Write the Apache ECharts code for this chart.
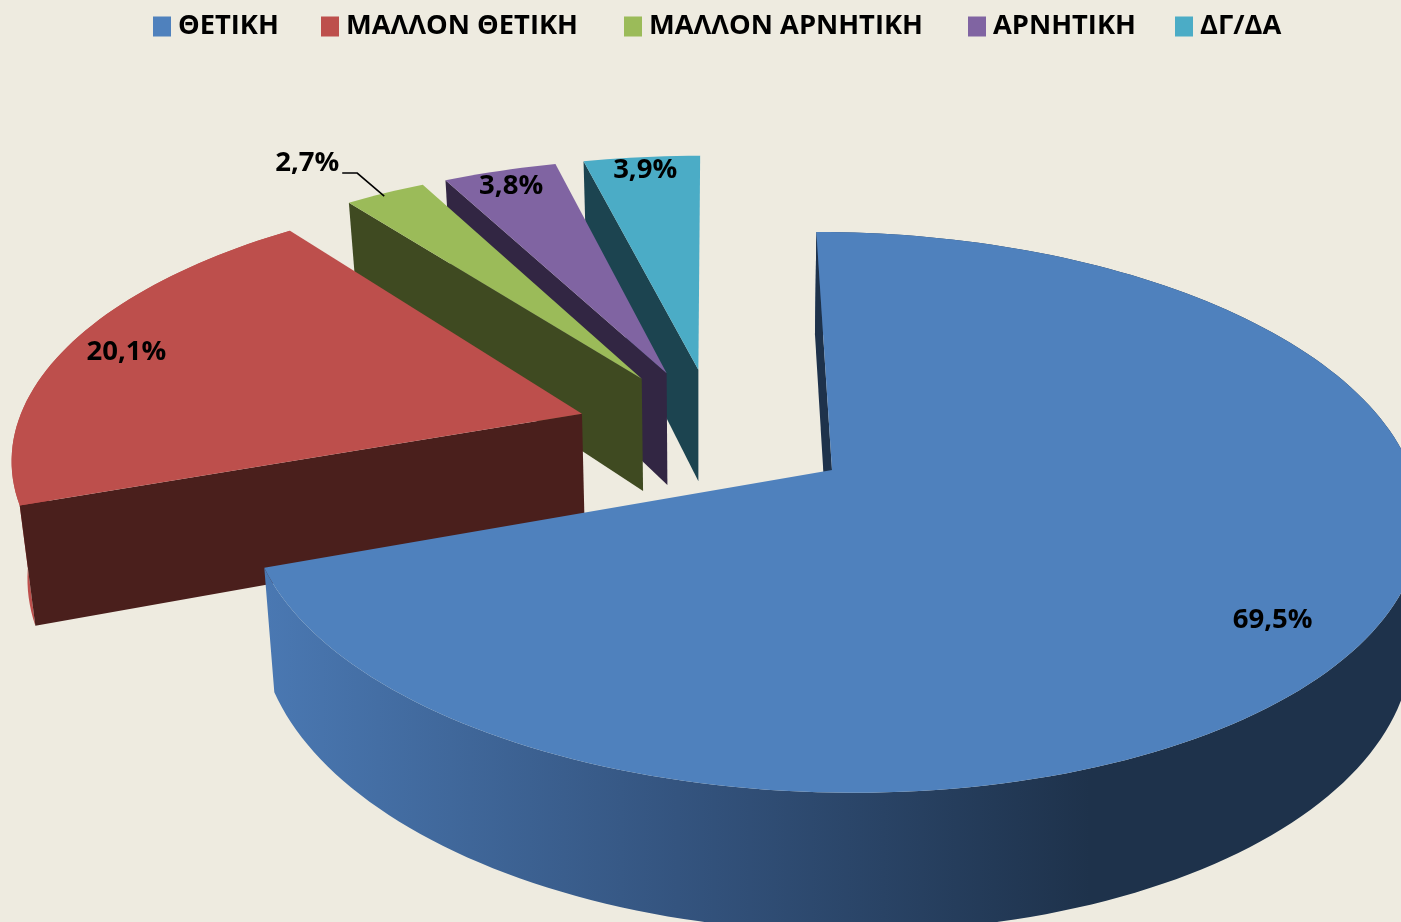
<!DOCTYPE html>
<html>
<head>
<meta charset="utf-8">
<script src="https://cdn.jsdelivr.net/npm/echarts@6/dist/echarts.min.js"></script>
<style>html,body{margin:0;padding:0;background:#EEEBE0}#c{width:1401px;height:922px}</style>
</head>
<body>
<div id="c"></div>
<script>
const categories = ['ΘΕΤΙΚΗ', 'ΜΑΛΛΟΝ ΘΕΤΙΚΗ', 'ΜΑΛΛΟΝ ΑΡΝΗΤΙΚΗ', 'ΑΡΝΗΤΙΚΗ', 'ΔΓ/ΔΑ'];
const shares = [69.5, 20.1, 2.7, 3.8, 3.9];
const topColors = ['#4F81BD', '#BD4F4C', '#9BBB59', '#8064A2', '#4BACC6'];
const faceColors = ['#1E324B', '#4A1F1C', '#3F4A21', '#322643', '#1C4450'];
const labelReach = [0.84, 0.87, 1.0, 0.87, 0.87];
const labelNudge = [[2, 7], [-8, -1], [0, 0], [-8, -8], [-3, -12]];
const legendLeft = [153, 321, 624, 968, 1175];

// projection of the pie plane onto the page (tilted camera)
const CAM = {cx: 832, cy: 470, a: 579, b: 274, k: 0.151, shear: 18, h: 118, vx: 700, convL: 0.023, convR: 0.012};
const EXPLODE = 0.247;
const BLUE_MID = (shares[0] / 100 * 360 / 2) * Math.PI / 180;
const ORIGIN = [-EXPLODE * Math.sin(BLUE_MID), EXPLODE * Math.cos(BLUE_MID)];
const FONT = 'bold 27.5px "Open Sans"';

function dir(t) { return [Math.sin(t), -Math.cos(t)]; }
function top2d(u, v) {
  const w = 1 - CAM.k * v;
  return [CAM.cx + (CAM.a * u + CAM.shear * v) / w, CAM.cy + CAM.b * v / w];
}
function low2d(u, v) {
  const w = 1 - CAM.k * v, p = top2d(u, v);
  const conv = p[0] < CAM.vx ? CAM.convL : CAM.convR;
  return [p[0] + (CAM.vx - p[0]) * conv, p[1] + CAM.h / w];
}

function renderSlice(params, api) {
  const i = api.value(1);
  const from = api.value(2) / 100 * 2 * Math.PI;
  const to = from + api.value(0) / 100 * 2 * Math.PI;
  const mid = (from + to) / 2;
  const d = dir(mid);
  const apex = [ORIGIN[0] + EXPLODE * d[0], ORIGIN[1] + EXPLODE * d[1]];
  const arc = [];
  const n = Math.max(8, Math.ceil((to - from) * 40));
  for (let s = 0; s <= n; s++) {
    const e = dir(from + (to - from) * s / n);
    arc.push([apex[0] + e[0], apex[1] + e[1]]);
  }
  const topArc = arc.map(p => top2d(p[0], p[1]));
  const lowArc = arc.map(p => low2d(p[0], p[1]));
  const A = top2d(apex[0], apex[1]), B = low2d(apex[0], apex[1]);
  const first = arc[0];
  const children = [];
  // outer wall: only the two large slices show it
  if (i < 2) {
    const wallFill = i === 1 ? topColors[1] : {
      type: 'linear', x: 265, y: 0, x2: 1090, y2: 0, global: true,
      colorStops: [{offset: 0, color: '#4A78B2'}, {offset: 0.5, color: '#34547F'}, {offset: 1, color: '#1E324B'}]
    };
    children.push({type: 'polygon', shape: {points: topArc.concat(lowArc.slice().reverse())}, style: {fill: wallFill}, silent: true});
  }
  // visible radial face (the cut at the start of the slice)
  const faceA = [A, top2d(first[0], first[1]), low2d(first[0], first[1]), B];
  children.push({type: 'polygon', shape: {points: faceA}, style: {fill: faceColors[i]}, silent: true});
  // top surface
  children.push({type: 'polygon', shape: {points: [A].concat(topArc)}, style: {fill: topColors[i]}, silent: true});
  // label
  const reach = labelReach[i];
  const lp = top2d(apex[0] + d[0] * reach, apex[1] + d[1] * reach);
  const txt = api.value(0).toFixed(1).replace('.', ',') + '%';
  if (i === 2) {
    const hook = [lp[0] - 1, lp[1] + 3];
    children.push({type: 'polyline', shape: {points: [[hook[0] - 42, hook[1] - 23], [hook[0] - 27, hook[1] - 23], hook]},
      style: {stroke: '#000', lineWidth: 1.6, fill: null}, silent: true});
    children.push({type: 'text', x: lp[0] - 78, y: lp[1] - 30, silent: true,
      style: {text: txt, font: FONT, fill: '#000', align: 'center', verticalAlign: 'middle'}});
  } else {
    children.push({type: 'text', x: lp[0] + labelNudge[i][0], y: lp[1] + labelNudge[i][1], silent: true,
      style: {text: txt, font: FONT, fill: '#000', align: 'center', verticalAlign: 'middle'}});
  }
  return {type: 'group', children};
}

const cumulative = shares.map((_, i) => shares.slice(0, i).reduce((x, y) => x + y, 0));
const drawOrder = [4, 3, 2, 1, 0];
const series = categories.map((name, i) => ({
  name, type: 'custom', coordinateSystem: 'none', renderItem: renderSlice,
  z: 2 + drawOrder.indexOf(i), itemStyle: {color: topColors[i]}, silent: true,
  clip: false, data: [[shares[i], i, cumulative[i]]]
}));

const chart = echarts.init(document.getElementById('c'), null, {renderer: 'canvas'});
chart.setOption({
  backgroundColor: '#EEEBE0',
  animation: false,
  legend: categories.map((name, i) => ({
    data: [name], top: 13, left: legendLeft[i], icon: 'rect', itemWidth: 18, itemHeight: 20,
    selectedMode: false, padding: 0,
    textStyle: {fontFamily: '"Open Sans"', fontWeight: 'bold', fontSize: 27.3, color: '#000', padding: [0, 0, 0, 2]}
  })),
  series
});
</script>
</body>
</html>
